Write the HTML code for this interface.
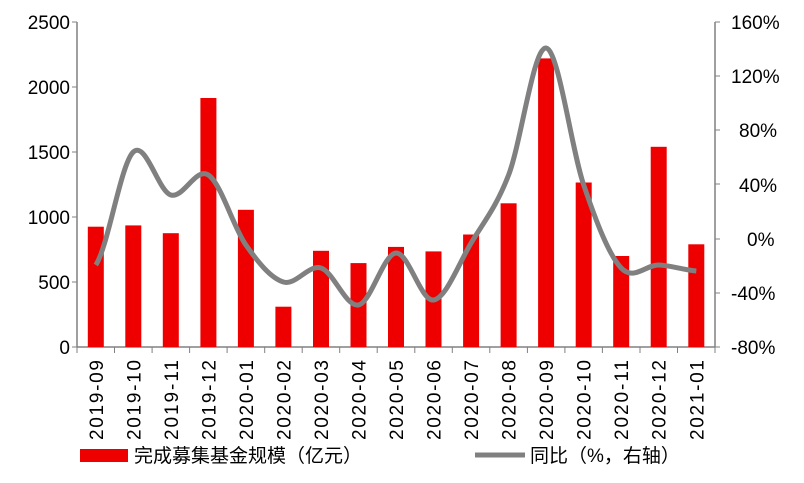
<!DOCTYPE html>
<html><head><meta charset="utf-8"><style>
html,body{margin:0;padding:0;background:#fff;}
svg text{font-family:"Liberation Sans","Noto Sans CJK SC",sans-serif;fill:#000;}
</style></head><body>
<svg width="804" height="478" viewBox="0 0 804 478" xmlns="http://www.w3.org/2000/svg">
<g font-size="19" text-anchor="end">
<text x="70" y="29">2500</text><text x="70" y="94">2000</text><text x="70" y="159">1500</text>
<text x="70" y="224">1000</text><text x="70" y="289">500</text><text x="70" y="354">0</text>
</g>
<g font-size="19" text-anchor="start">
<text x="731" y="29">160%</text><text x="731" y="83">120%</text><text x="739" y="137">80%</text>
<text x="739" y="192">40%</text><text x="747" y="246">0%</text><text x="731" y="300">-40%</text><text x="731" y="354">-80%</text>
</g>
<g stroke="#808080" stroke-width="1.5" fill="none">
<line x1="77" y1="22" x2="77" y2="347"/>
<line x1="715" y1="22" x2="715" y2="347"/>
<line x1="77" y1="347" x2="715" y2="347"/>
</g>
<g stroke="#808080" stroke-width="1">
<line x1="72" y1="22" x2="77" y2="22"/><line x1="72" y1="87" x2="77" y2="87"/><line x1="72" y1="152" x2="77" y2="152"/><line x1="72" y1="217" x2="77" y2="217"/><line x1="72" y1="282" x2="77" y2="282"/><line x1="72" y1="347" x2="77" y2="347"/>
<line x1="715" y1="22" x2="720" y2="22"/><line x1="715" y1="76" x2="720" y2="76"/><line x1="715" y1="130" x2="720" y2="130"/><line x1="715" y1="184" x2="720" y2="184"/><line x1="715" y1="239" x2="720" y2="239"/><line x1="715" y1="293" x2="720" y2="293"/><line x1="715" y1="347" x2="720" y2="347"/>
<line x1="77" y1="347" x2="77" y2="353"/><line x1="114.5" y1="347" x2="114.5" y2="353"/><line x1="152.1" y1="347" x2="152.1" y2="353"/><line x1="189.6" y1="347" x2="189.6" y2="353"/><line x1="227.1" y1="347" x2="227.1" y2="353"/><line x1="264.7" y1="347" x2="264.7" y2="353"/><line x1="302.2" y1="347" x2="302.2" y2="353"/><line x1="339.7" y1="347" x2="339.7" y2="353"/><line x1="377.2" y1="347" x2="377.2" y2="353"/><line x1="414.8" y1="347" x2="414.8" y2="353"/><line x1="452.3" y1="347" x2="452.3" y2="353"/><line x1="489.8" y1="347" x2="489.8" y2="353"/><line x1="527.4" y1="347" x2="527.4" y2="353"/><line x1="564.9" y1="347" x2="564.9" y2="353"/><line x1="602.4" y1="347" x2="602.4" y2="353"/><line x1="640" y1="347" x2="640" y2="353"/><line x1="677.5" y1="347" x2="677.5" y2="353"/><line x1="715" y1="347" x2="715" y2="353"/>
</g>
<g fill="#ee0000">
<rect x="87.8" y="226.7" width="16" height="120.3"/>
<rect x="125.3" y="225.4" width="16" height="121.6"/>
<rect x="162.8" y="233.2" width="16" height="113.8"/>
<rect x="200.4" y="98" width="16" height="249"/>
<rect x="237.9" y="209.8" width="16" height="137.2"/>
<rect x="275.4" y="306.7" width="16" height="40.3"/>
<rect x="313" y="250.8" width="16" height="96.2"/>
<rect x="350.5" y="263.1" width="16" height="83.9"/>
<rect x="388" y="246.9" width="16" height="100.1"/>
<rect x="425.5" y="251.4" width="16" height="95.6"/>
<rect x="463.1" y="234.5" width="16" height="112.5"/>
<rect x="500.6" y="203.3" width="16" height="143.7"/>
<rect x="538.1" y="58.4" width="16" height="288.6"/>
<rect x="575.7" y="182.5" width="16" height="164.5"/>
<rect x="613.2" y="256" width="16" height="91"/>
<rect x="650.7" y="146.8" width="16" height="200.2"/>
<rect x="688.3" y="244.3" width="16" height="102.7"/>
</g>
<path fill="none" stroke="#808080" stroke-width="5" stroke-linejoin="round" d="M95.8,265 C108.3,246.2 120.8,163.7 133.3,152 C145.8,140.3 158.3,191.2 170.8,195 C183.3,198.8 195.9,166.7 208.4,175 C220.9,183.3 233.4,227.2 245.9,245 C258.4,262.8 270.9,278.2 283.4,282 C295.9,285.8 308.5,264.2 321,268 C333.5,271.8 346,307.5 358.5,305 C371,302.5 383.5,253.8 396,253 C408.5,252.2 421,301.7 433.5,300 C446,298.3 458.6,263.8 471.1,243 C483.6,222.2 496.1,207.5 508.6,175 C521.1,142.5 533.6,46.3 546.1,48 C558.6,49.7 571.2,148.3 583.7,185 C596.2,221.7 608.7,254.7 621.2,268 C633.7,281.3 646.2,264.5 658.7,265 C671.2,265.5 683.8,270 696.3,271"/>
<g font-size="19" text-anchor="end">
<text transform="translate(102.8,360) rotate(-90)" textLength="80" lengthAdjust="spacing">2019-09</text>
<text transform="translate(140.3,360) rotate(-90)" textLength="80" lengthAdjust="spacing">2019-10</text>
<text transform="translate(177.8,360) rotate(-90)" textLength="80" lengthAdjust="spacing">2019-11</text>
<text transform="translate(215.4,360) rotate(-90)" textLength="80" lengthAdjust="spacing">2019-12</text>
<text transform="translate(252.9,360) rotate(-90)" textLength="80" lengthAdjust="spacing">2020-01</text>
<text transform="translate(290.4,360) rotate(-90)" textLength="80" lengthAdjust="spacing">2020-02</text>
<text transform="translate(328,360) rotate(-90)" textLength="80" lengthAdjust="spacing">2020-03</text>
<text transform="translate(365.5,360) rotate(-90)" textLength="80" lengthAdjust="spacing">2020-04</text>
<text transform="translate(403,360) rotate(-90)" textLength="80" lengthAdjust="spacing">2020-05</text>
<text transform="translate(440.5,360) rotate(-90)" textLength="80" lengthAdjust="spacing">2020-06</text>
<text transform="translate(478.1,360) rotate(-90)" textLength="80" lengthAdjust="spacing">2020-07</text>
<text transform="translate(515.6,360) rotate(-90)" textLength="80" lengthAdjust="spacing">2020-08</text>
<text transform="translate(553.1,360) rotate(-90)" textLength="80" lengthAdjust="spacing">2020-09</text>
<text transform="translate(590.7,360) rotate(-90)" textLength="80" lengthAdjust="spacing">2020-10</text>
<text transform="translate(628.2,360) rotate(-90)" textLength="80" lengthAdjust="spacing">2020-11</text>
<text transform="translate(665.7,360) rotate(-90)" textLength="80" lengthAdjust="spacing">2020-12</text>
<text transform="translate(703.3,360) rotate(-90)" textLength="80" lengthAdjust="spacing">2021-01</text>
</g>
<rect x="80" y="449" width="48" height="13" fill="#ee0000"/>
<text x="134" y="462" font-size="19">完成募集基金规模（亿元）</text>
<line x1="475" y1="455" x2="525" y2="455" stroke="#808080" stroke-width="5"/>
<text x="530" y="462" font-size="19">同比（%，右轴）</text>
</svg>
</body></html>
